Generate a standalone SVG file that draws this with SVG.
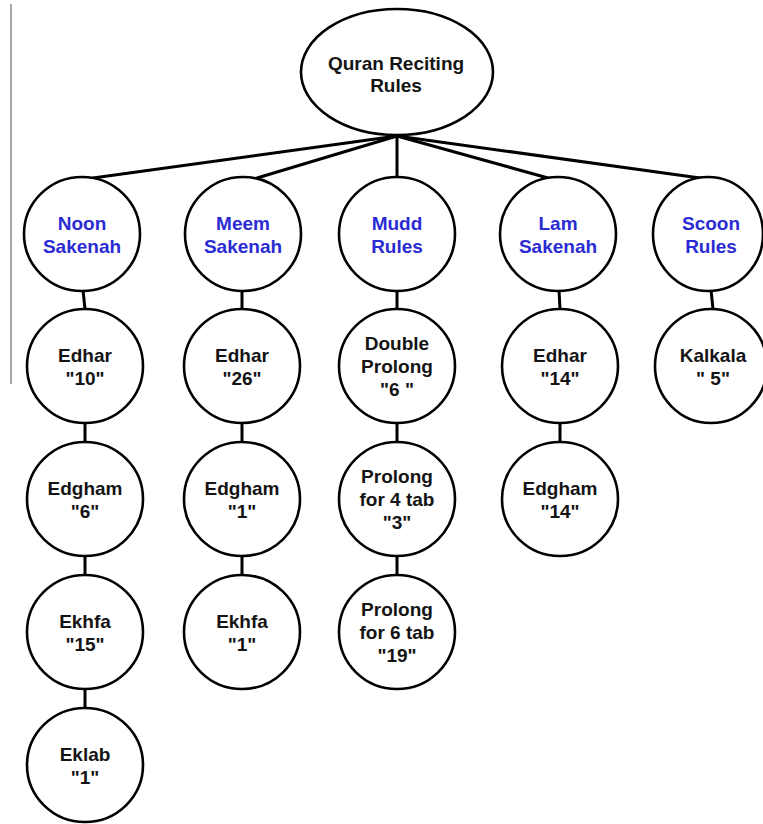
<svg xmlns="http://www.w3.org/2000/svg" width="763" height="824" viewBox="0 0 763 824">
  <style>
    .node { fill: #ffffff; stroke: #000000; stroke-width: 2.6; }
    .edge { stroke: #000000; stroke-width: 3; fill: none; stroke-linecap: round; }
    .label { font-family: "Liberation Sans", Arial, sans-serif; font-size: 19px; font-weight: bold; text-anchor: middle; fill: #141414; }
    .cat { fill: #2b2bd4; }
  </style>
  <rect width="763" height="824" fill="#ffffff"/>
  <!-- margin rule on the left -->
  <line x1="11" y1="4" x2="11" y2="384" stroke="#8a8a8a" stroke-width="1.5"/>

  <!-- connectors -->
  <g id="edges">
    <line class="edge" x1="397" y1="136" x2="93" y2="178"/>
    <line class="edge" x1="397" y1="136" x2="257" y2="178"/>
    <line class="edge" x1="397" y1="136" x2="397" y2="177"/>
    <line class="edge" x1="397" y1="136" x2="548" y2="178"/>
    <line class="edge" x1="397" y1="136" x2="700" y2="178"/>
    <!-- Noon Sakenah column -->
    <line class="edge" x1="83" y1="290" x2="85" y2="309"/>
    <line class="edge" x1="85" y1="423" x2="85" y2="442"/>
    <line class="edge" x1="85" y1="556" x2="85" y2="575"/>
    <line class="edge" x1="85" y1="689" x2="85" y2="708"/>
    <!-- Meem Sakenah column -->
    <line class="edge" x1="242" y1="290" x2="242" y2="309"/>
    <line class="edge" x1="242" y1="423" x2="242" y2="442"/>
    <line class="edge" x1="242" y1="556" x2="242" y2="575"/>
    <!-- Mudd Rules column -->
    <line class="edge" x1="397" y1="290" x2="397" y2="309"/>
    <line class="edge" x1="397" y1="423" x2="397" y2="442"/>
    <line class="edge" x1="397" y1="556" x2="397" y2="575"/>
    <!-- Lam Sakenah column -->
    <line class="edge" x1="559" y1="290" x2="560" y2="309"/>
    <line class="edge" x1="560" y1="423" x2="560" y2="442"/>
    <!-- Scoon Rules column -->
    <line class="edge" x1="711" y1="290" x2="713" y2="309"/>
  </g>

  <g id="root">
    <ellipse class="node" cx="397" cy="72" rx="96" ry="63"/>
    <text class="label"><tspan x="396" y="70">Quran Reciting</tspan><tspan x="396" y="92">Rules</tspan></text>
  </g>

  <g id="noon-sakenah">
    <ellipse class="node" cx="82" cy="234" rx="58" ry="57"/>
    <text class="label cat"><tspan x="82" y="230">Noon</tspan><tspan x="82" y="253">Sakenah</tspan></text>
  </g>
  <g id="meem-sakenah">
    <ellipse class="node" cx="243" cy="234" rx="58" ry="57"/>
    <text class="label cat"><tspan x="243" y="230">Meem</tspan><tspan x="243" y="253">Sakenah</tspan></text>
  </g>
  <g id="mudd-rules">
    <ellipse class="node" cx="397" cy="234" rx="58" ry="57"/>
    <text class="label cat"><tspan x="397" y="230">Mudd</tspan><tspan x="397" y="253">Rules</tspan></text>
  </g>
  <g id="lam-sakenah">
    <ellipse class="node" cx="558" cy="234" rx="58" ry="57"/>
    <text class="label cat"><tspan x="558" y="230">Lam</tspan><tspan x="558" y="253">Sakenah</tspan></text>
  </g>
  <g id="scoon-rules">
    <ellipse class="node" cx="708" cy="234" rx="55" ry="57"/>
    <text class="label cat"><tspan x="711" y="230">Scoon</tspan><tspan x="711" y="253">Rules</tspan></text>
  </g>

  <g id="noon-edhar">
    <ellipse class="node" cx="85" cy="366" rx="58" ry="57"/>
    <text class="label"><tspan x="85" y="362">Edhar</tspan><tspan x="85" y="385">"10"</tspan></text>
  </g>
  <g id="noon-edgham">
    <ellipse class="node" cx="85" cy="499" rx="58" ry="57"/>
    <text class="label"><tspan x="85" y="495">Edgham</tspan><tspan x="85" y="518">"6"</tspan></text>
  </g>
  <g id="noon-ekhfa">
    <ellipse class="node" cx="85" cy="632" rx="58" ry="57"/>
    <text class="label"><tspan x="85" y="628">Ekhfa</tspan><tspan x="85" y="651">"15"</tspan></text>
  </g>
  <g id="noon-eklab">
    <ellipse class="node" cx="85" cy="765" rx="58" ry="57"/>
    <text class="label"><tspan x="85" y="761">Eklab</tspan><tspan x="85" y="784">"1"</tspan></text>
  </g>

  <g id="meem-edhar">
    <ellipse class="node" cx="242" cy="366" rx="58" ry="57"/>
    <text class="label"><tspan x="242" y="362">Edhar</tspan><tspan x="242" y="385">"26"</tspan></text>
  </g>
  <g id="meem-edgham">
    <ellipse class="node" cx="242" cy="499" rx="58" ry="57"/>
    <text class="label"><tspan x="242" y="495">Edgham</tspan><tspan x="242" y="518">"1"</tspan></text>
  </g>
  <g id="meem-ekhfa">
    <ellipse class="node" cx="242" cy="632" rx="58" ry="57"/>
    <text class="label"><tspan x="242" y="628">Ekhfa</tspan><tspan x="242" y="651">"1"</tspan></text>
  </g>

  <g id="mudd-double">
    <ellipse class="node" cx="397" cy="366" rx="58" ry="57"/>
    <text class="label"><tspan x="397" y="350">Double</tspan><tspan x="397" y="373">Prolong</tspan><tspan x="397" y="396">"6 "</tspan></text>
  </g>
  <g id="mudd-prolong-4">
    <ellipse class="node" cx="397" cy="499" rx="58" ry="57"/>
    <text class="label"><tspan x="397" y="483">Prolong</tspan><tspan x="397" y="506">for 4 tab</tspan><tspan x="397" y="529">"3"</tspan></text>
  </g>
  <g id="mudd-prolong-6">
    <ellipse class="node" cx="397" cy="632" rx="58" ry="57"/>
    <text class="label"><tspan x="397" y="616">Prolong</tspan><tspan x="397" y="639">for 6 tab</tspan><tspan x="397" y="662">"19"</tspan></text>
  </g>

  <g id="lam-edhar">
    <ellipse class="node" cx="560" cy="366" rx="58" ry="57"/>
    <text class="label"><tspan x="560" y="362">Edhar</tspan><tspan x="560" y="385">"14"</tspan></text>
  </g>
  <g id="lam-edgham">
    <ellipse class="node" cx="560" cy="499" rx="58" ry="57"/>
    <text class="label"><tspan x="560" y="495">Edgham</tspan><tspan x="560" y="518">"14"</tspan></text>
  </g>

  <g id="scoon-kalkala">
    <ellipse class="node" cx="711" cy="366" rx="56" ry="57"/>
    <text class="label"><tspan x="713" y="362">Kalkala</tspan><tspan x="713" y="385">" 5"</tspan></text>
  </g>
</svg>
